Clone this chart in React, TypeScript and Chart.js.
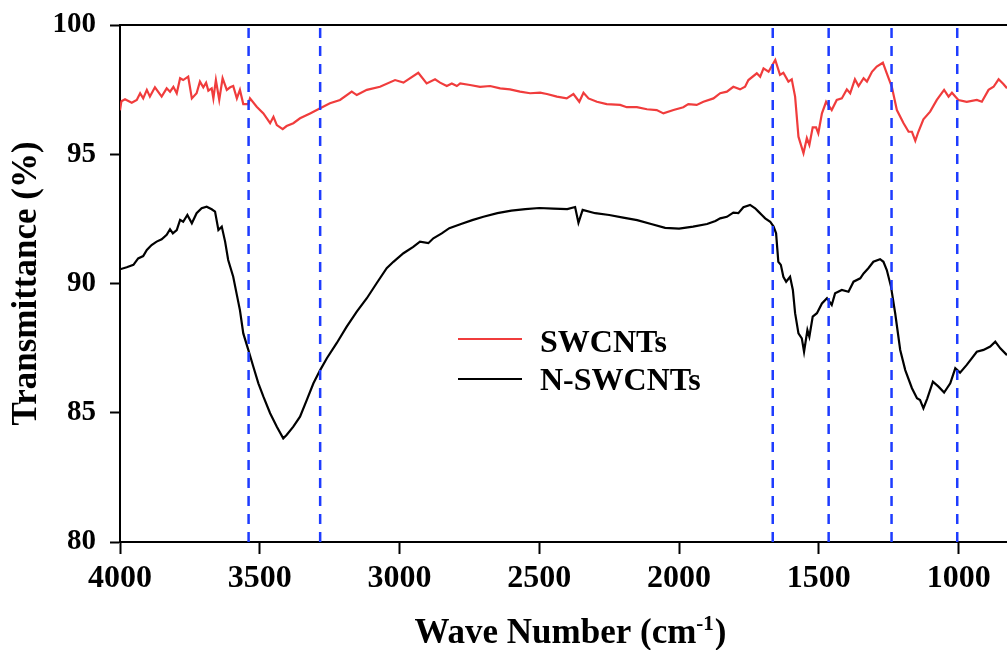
import React, { useEffect, useRef } from 'react';
import { Chart, registerables } from 'chart.js';

Chart.register(...registerables);

const xTicks = [4000, 3500, 3000, 2500, 2000, 1500, 1000];
const yTicks = [80, 85, 90, 95, 100];
const xMin = 827;
const xMax = 4000;
const yMin = 80;
const yMax = 100;

const markerWavenumbers = [3540, 3284, 1665, 1465, 1240, 1005];

const seriesLabels = ['SWCNTs', 'N-SWCNTs'];
const xTitleMain = 'Wave Number (cm';
const xTitleSup = '-1';
const xTitleTail = ')';
const yTitle = 'Transmittance (%)';

const swcntsWavenumbers = [
  4000, 3995, 3982, 3958, 3940, 3928, 3917, 3904, 3893, 3875, 3851, 3833, 3821, 3809, 3797, 3785,
  3774, 3756, 3743, 3726, 3714, 3702, 3692, 3684, 3672, 3666, 3657, 3645, 3633, 3618, 3606, 3595,
  3582, 3571, 3559, 3541, 3535, 3511, 3487, 3463, 3451, 3439, 3418, 3404, 3380, 3356, 3320, 3284,
  3249, 3213, 3171, 3153, 3117, 3070, 3016, 2986, 2933, 2903, 2873, 2855, 2831, 2813, 2795, 2783,
  2748, 2712, 2676, 2640, 2605, 2569, 2533, 2497, 2473, 2437, 2402, 2378, 2357, 2342, 2324, 2294,
  2259, 2211, 2187, 2151, 2115, 2080, 2056, 2020, 1985, 1967, 1937, 1913, 1877, 1853, 1829, 1806,
  1782, 1764, 1752, 1722, 1710, 1698, 1680, 1656, 1639, 1627, 1609, 1597, 1585, 1573, 1555, 1543,
  1534, 1522, 1510, 1502, 1489, 1474, 1454, 1436, 1418, 1400, 1388, 1371, 1358, 1340, 1328, 1310,
  1293, 1271, 1257, 1239, 1221, 1197, 1179, 1167, 1155, 1144, 1126, 1102, 1078, 1052, 1036, 1024,
  1001, 971, 935, 917, 893, 875, 857, 840, 827,
];
const swcntsTransmittance = [
  96.7, 97.05, 97.13, 96.99, 97.1, 97.36, 97.16, 97.49, 97.23, 97.59, 97.23, 97.55, 97.42, 97.61, 97.36, 97.94,
  97.87, 98.0, 97.16, 97.36, 97.81, 97.59, 97.77, 97.46, 97.55, 97.16, 97.87, 97.1, 97.94, 97.49, 97.59, 97.64,
  97.16, 97.49, 96.94, 96.94, 97.16, 96.84, 96.58, 96.2, 96.45, 96.13, 95.97, 96.09, 96.2, 96.39, 96.58, 96.78,
  96.97, 97.1, 97.42, 97.29, 97.49, 97.61, 97.87, 97.77, 98.15, 97.74, 97.9, 97.77, 97.64, 97.74, 97.64, 97.74,
  97.68, 97.61, 97.64, 97.55, 97.51, 97.42, 97.36, 97.38, 97.33, 97.23, 97.16, 97.33, 97.03, 97.38, 97.16, 97.03,
  96.94, 96.91, 96.82, 96.82, 96.74, 96.71, 96.58, 96.71, 96.82, 96.94, 96.91, 97.03, 97.16, 97.36, 97.42, 97.61,
  97.51, 97.61, 97.87, 98.13, 98.0, 98.32, 98.19, 98.65, 98.07, 98.15, 97.81, 97.9, 97.23, 95.68, 95.04, 95.62,
  95.36, 96.04, 96.04, 95.81, 96.58, 97.03, 96.71, 97.1, 97.16, 97.51, 97.36, 97.9, 97.64, 97.94, 97.81, 98.19,
  98.39, 98.54, 98.13, 97.61, 96.71, 96.2, 95.87, 95.87, 95.52, 95.87, 96.35, 96.65, 97.1, 97.49, 97.23, 97.38,
  97.1, 97.03, 97.1, 97.03, 97.49, 97.61, 97.9, 97.72, 97.55,
];

const nswcntsWavenumbers = [
  4000, 3976, 3952, 3935, 3917, 3904, 3887, 3869, 3851, 3833, 3821, 3811, 3797, 3785, 3774, 3759,
  3743, 3726, 3708, 3690, 3672, 3660, 3648, 3636, 3624, 3613, 3595, 3582, 3571, 3559, 3541, 3523,
  3505, 3487, 3463, 3439, 3416, 3404, 3380, 3356, 3332, 3308, 3284, 3260, 3225, 3189, 3153, 3117,
  3082, 3046, 3022, 2986, 2951, 2927, 2897, 2879, 2849, 2822, 2780, 2740, 2700, 2650, 2600, 2550,
  2500, 2450, 2400, 2372, 2360, 2345, 2300, 2250, 2200, 2150, 2100, 2050, 2000, 1950, 1900, 1870,
  1853, 1829, 1806, 1788, 1770, 1746, 1728, 1716, 1704, 1692, 1674, 1662, 1653, 1645, 1636, 1627,
  1617, 1603, 1593, 1585, 1573, 1561, 1553, 1541, 1534, 1522, 1507, 1489, 1471, 1454, 1442, 1418,
  1394, 1376, 1352, 1340, 1323, 1305, 1281, 1269, 1257, 1242, 1227, 1209, 1191, 1167, 1149, 1138,
  1126, 1112, 1092, 1072, 1052, 1030, 1012, 995, 971, 935, 911, 887, 869, 851, 827,
];
const nswcntsTransmittance = [
  90.55, 90.63, 90.72, 90.97, 91.06, 91.3, 91.49, 91.62, 91.71, 91.88, 92.1, 91.94, 92.07, 92.46, 92.39, 92.65,
  92.33, 92.72, 92.91, 92.97, 92.87, 92.78, 92.07, 92.2, 91.62, 90.91, 90.26, 89.56, 88.97, 88.07, 87.43, 86.78,
  86.14, 85.62, 84.98, 84.46, 84.01, 84.14, 84.46, 84.85, 85.49, 86.14, 86.65, 87.11, 87.69, 88.33, 88.91, 89.43,
  90.01, 90.59, 90.84, 91.17, 91.42, 91.62, 91.56, 91.75, 91.94, 92.14, 92.3, 92.45, 92.58, 92.72, 92.82, 92.88,
  92.92, 92.9, 92.88, 92.96, 92.35, 92.85, 92.72, 92.65, 92.55, 92.45, 92.3, 92.15, 92.12, 92.2, 92.3, 92.42,
  92.52, 92.58, 92.74, 92.72, 92.95, 93.04, 92.91, 92.78, 92.65, 92.52, 92.39, 92.2, 91.94, 90.84, 90.72, 90.26,
  90.07, 90.26, 89.75, 88.85, 88.07, 87.88, 87.36, 88.2, 87.94, 88.72, 88.85, 89.23, 89.43, 89.17, 89.62, 89.75,
  89.68, 90.07, 90.2, 90.39, 90.59, 90.84, 90.94, 90.84, 90.52, 89.88, 88.85, 87.43, 86.65, 85.95, 85.56, 85.49,
  85.17, 85.56, 86.2, 86.01, 85.78, 86.14, 86.72, 86.55, 86.85, 87.36, 87.43, 87.56, 87.75, 87.49, 87.23,
];

const RED = 'rgb(240, 60, 60)';
const BLACK = '#000000';
const BLUE = 'rgb(30, 60, 255)';
const SERIF = "'Liberation Serif', 'Times New Roman', serif";

const overlayPlugin = {
  id: 'overlay',
  afterDraw(chart: any) {
    const { ctx, chartArea } = chart;
    const { left, right, top, bottom } = chartArea;
    ctx.save();
    // top frame line
    ctx.strokeStyle = BLACK;
    ctx.lineWidth = 2;
    ctx.beginPath();
    ctx.moveTo(left - 1, top);
    ctx.lineTo(right, top);
    ctx.stroke();

    // legend
    const colors = [RED, BLACK];
    const lineY = [top + 314, top + 354];
    const textY = [top + 327, top + 365];
    ctx.font = `bold 32px ${SERIF}`;
    ctx.textBaseline = 'alphabetic';
    ctx.textAlign = 'left';
    seriesLabels.forEach((label, i) => {
      ctx.strokeStyle = colors[i];
      ctx.lineWidth = 2;
      ctx.beginPath();
      ctx.moveTo(left + 338, lineY[i]);
      ctx.lineTo(left + 402, lineY[i]);
      ctx.stroke();
      ctx.fillStyle = BLACK;
      ctx.fillText(label, left + 420, textY[i]);
    });

    // x axis title with superscript
    const mainFont = `bold 35px ${SERIF}`;
    const supFont = `bold 21px ${SERIF}`;
    ctx.font = mainFont;
    const wMain = ctx.measureText(xTitleMain).width;
    const wTail = ctx.measureText(xTitleTail).width;
    ctx.font = supFont;
    const wSup = ctx.measureText(xTitleSup).width;
    const total = wMain + wSup + 1 + wTail;
    const cx = (left + right) / 2 + 7;
    const baseY = bottom + 101;
    let x = cx - total / 2;
    ctx.fillStyle = BLACK;
    ctx.font = mainFont;
    ctx.fillText(xTitleMain, x, baseY);
    x += wMain;
    ctx.font = supFont;
    ctx.fillText(xTitleSup, x, baseY - 13);
    x += wSup + 1;
    ctx.font = mainFont;
    ctx.fillText(xTitleTail, x, baseY);
    ctx.restore();
  },
};

export default function App() {
  const canvasRef = useRef<HTMLCanvasElement | null>(null);

  useEffect(() => {
    const canvas = canvasRef.current;
    if (!canvas) return;

    const markerSets = markerWavenumbers.map((w) => ({
      label: 'marker',
      data: [
        { x: w, y: yMin },
        { x: w, y: yMax },
      ],
      borderColor: BLUE,
      borderWidth: 2.5,
      borderDash: [10, 8],
      pointRadius: 0,
      fill: false,
    }));

    const chart = new Chart(canvas, {
      type: 'line',
      data: {
        datasets: [
          ...markerSets,
          {
            label: seriesLabels[0],
            data: swcntsWavenumbers.map((w, i) => ({ x: w, y: swcntsTransmittance[i] })),
            borderColor: RED,
            borderWidth: 2.2,
            pointRadius: 0,
            tension: 0,
            fill: false,
          },
          {
            label: seriesLabels[1],
            data: nswcntsWavenumbers.map((w, i) => ({ x: w, y: nswcntsTransmittance[i] })),
            borderColor: BLACK,
            borderWidth: 2.2,
            pointRadius: 0,
            tension: 0,
            fill: false,
          },
        ],
      },
      options: {
        animation: false,
        responsive: false,
        maintainAspectRatio: false,
        devicePixelRatio: 1,
        layout: { padding: { top: 25, right: 0, left: 0, bottom: 0 } },
        plugins: {
          legend: { display: false },
          tooltip: { enabled: false },
          title: { display: false },
        },
        scales: {
          x: {
            type: 'linear',
            reverse: true,
            min: xMin,
            max: xMax,
            afterBuildTicks: (scale: any) => {
              scale.ticks = xTicks.map((v) => ({ value: v }));
            },
            afterFit: (scale: any) => {
              scale.height = 108;
              scale.paddingLeft = 0;
              scale.paddingRight = 0;
            },
            grid: {
              drawOnChartArea: false,
              drawTicks: true,
              tickLength: 12,
              tickWidth: 2,
              tickColor: BLACK,
            },
            border: { display: true, color: BLACK, width: 2 },
            ticks: {
              color: BLACK,
              padding: 6,
              maxRotation: 0,
              autoSkip: false,
              callback: (v: any) => String(v),
              font: { family: SERIF, size: 32, weight: 'bold', lineHeight: 1.2 },
            },
            title: { display: false },
          },
          y: {
            type: 'linear',
            min: yMin,
            max: yMax,
            afterBuildTicks: (scale: any) => {
              scale.ticks = yTicks.map((v) => ({ value: v }));
            },
            afterFit: (scale: any) => {
              scale.width = 120;
              scale.paddingTop = 0;
              scale.paddingBottom = 0;
            },
            grid: {
              drawOnChartArea: false,
              drawTicks: true,
              tickLength: 10,
              tickWidth: 2,
              tickColor: BLACK,
            },
            border: { display: true, color: BLACK, width: 2 },
            ticks: {
              color: BLACK,
              padding: 14,
              autoSkip: false,
              callback: (v: any) => String(v),
              font: { family: SERIF, size: 29, weight: 'bold', lineHeight: 1.2 },
            },
            title: {
              display: true,
              text: yTitle,
              color: BLACK,
              font: { family: SERIF, size: 35, weight: 'bold', lineHeight: 1 },
              padding: { top: 9, bottom: 0 },
            },
          },
        },
      },
      plugins: [overlayPlugin],
    } as any);

    return () => {
      chart.destroy();
    };
  }, []);

  return (
    <div style={{ position: 'fixed', left: 0, top: 0, width: 1007, height: 650, background: '#fff' }}>
      <canvas ref={canvasRef} width={1007} height={650} style={{ width: 1007, height: 650, display: 'block' }} />
    </div>
  );
}
